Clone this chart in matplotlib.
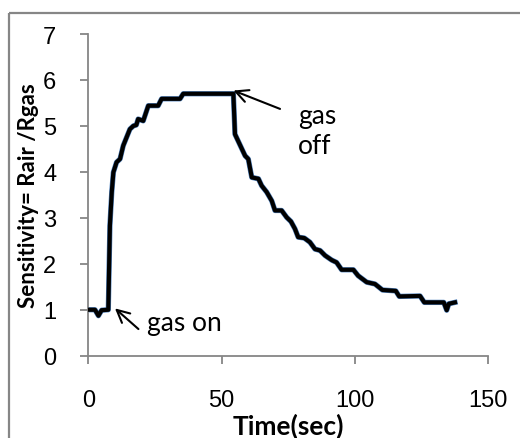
import matplotlib
matplotlib.use("Agg")
import matplotlib.pyplot as plt
from matplotlib.patches import Rectangle
from matplotlib.transforms import Affine2D

time_s = [0, 2.5, 3.8, 5, 7.5, 8.1, 8.8, 9.4, 10.0, 10.6, 11.9, 13.1, 15.6, 16.9, 18.0,
          18.7, 20.6, 22.5, 26.2, 27.5, 34.4, 35.6, 53.0, 54.4, 55.0, 58.8, 60.0, 61.3,
          63.8, 65.0, 66.9, 68.8, 70.0, 72.5, 74.4, 76.0, 77.5, 78.7, 81.0, 83.1, 85.0,
          86.9, 88.8, 91.3, 93.1, 95.0, 99.4, 101.2, 104.4, 107.5, 110.3, 115.3, 116.6,
          124.4, 126.0, 133.3, 134.4, 135.2, 137.5]
sensitivity = [1.0, 1.0, 0.87, 0.99, 1.0, 2.83, 3.56, 3.99, 4.1, 4.21, 4.28, 4.57, 4.93, 5.0, 5.02,
               5.15, 5.11, 5.44, 5.44, 5.59, 5.59, 5.70, 5.70, 5.70, 4.82, 4.35, 4.28, 3.88,
               3.85, 3.70, 3.56, 3.37, 3.16, 3.16, 3.01, 2.92, 2.76, 2.58, 2.56, 2.47, 2.32,
               2.29, 2.18, 2.08, 2.03, 1.87, 1.87, 1.74, 1.60, 1.56, 1.43, 1.41, 1.29,
               1.30, 1.16, 1.16, 0.99, 1.13, 1.16]

x_ticks = [0, 50, 100, 150]
y_ticks = [0, 1, 2, 3, 4, 5, 6, 7]

fig = plt.figure(figsize=(5.2, 4.39), dpi=100)
ax = fig.add_axes([88.3 / 520, (439 - 356.7) / 439, 400 / 520, 321.7 / 439])

ax.plot(time_s, sensitivity, color="#4F81BD", lw=3.8, solid_joinstyle="round", zorder=2)
ax.plot(time_s, sensitivity, color="black", lw=3.0, solid_joinstyle="round", zorder=3)

ax.set_xlim(0, 150)
ax.set_ylim(0, 7)
ax.set_xticks(x_ticks)
ax.set_yticks(y_ticks)
for s in ["top", "right"]:
    ax.spines[s].set_visible(False)
for s in ["left", "bottom"]:
    ax.spines[s].set_color("#868686")
    ax.spines[s].set_linewidth(1.3)
ax.tick_params(axis="both", direction="out", length=6, width=1.3, color="#868686",
               labelsize=17, labelcolor="black")
ax.tick_params(axis="x", pad=18)
ax.tick_params(axis="y", pad=17)
for lab in ax.get_xticklabels() + ax.get_yticklabels():
    lab.set_family("Liberation Sans")

ax.set_xlabel("Time(sec)", fontsize=19, fontweight="bold", family="Lato", labelpad=1)
ax.set_ylabel("Sensitivity= Rair /Rgas", fontsize=16, fontweight="bold", family="Lato", labelpad=3)

arrow_kw = dict(arrowstyle="->,head_length=0.9,head_width=0.45", color="black", lw=1.5,
                shrinkA=0, shrinkB=0)
ax.annotate("", xy=(10.0, 1.03), xytext=(18.8, 0.58), arrowprops=arrow_kw)
ax.annotate("", xy=(54.4, 5.77), xytext=(71.9, 5.37), arrowprops=arrow_kw)
ax.text(21.9, 0.72, "gas on", fontsize=19, family="Lato", va="center", ha="left")
ax.text(78.6, 4.9, "gas\noff", fontsize=19, family="Lato", va="center", ha="left",
        linespacing=1.25)

border = Rectangle((8.5, 13.5), 600, 600, fill=False, edgecolor="#868686", lw=1.6)
border.set_transform(Affine2D().scale(1, -1).translate(0, 439))
fig.patches.append(border)

fig.savefig("out.png", dpi=100)
